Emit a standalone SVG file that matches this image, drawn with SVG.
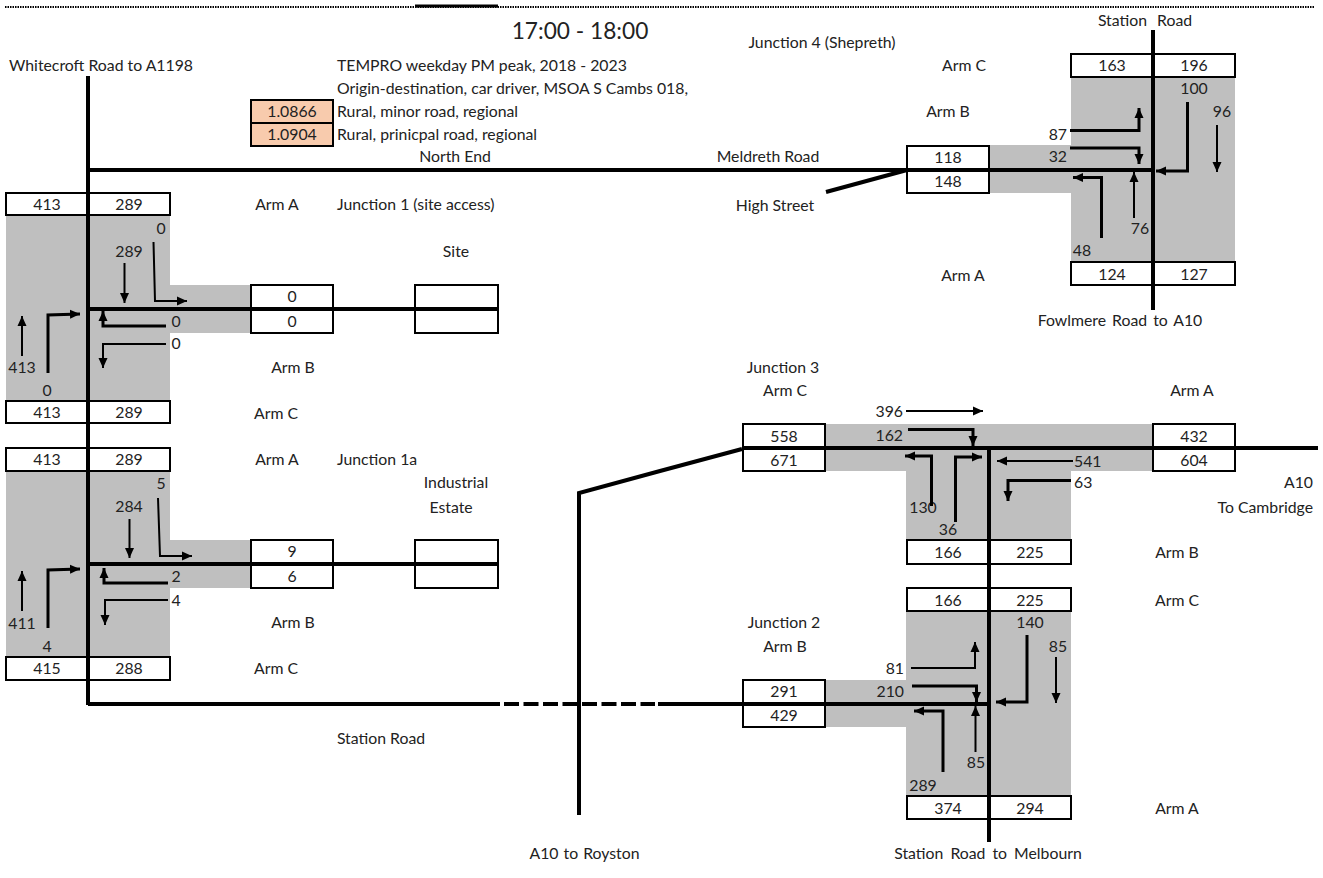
<svg xmlns="http://www.w3.org/2000/svg" width="1323" height="878" viewBox="0 0 1323 878">
<style>
text{font-family:"Lato","Carlito","Open Sans",sans-serif;font-size:15.8px;fill:#222;transform:translateY(.7px)}
.m{text-anchor:middle}.e{text-anchor:end}
.g{fill:#bfbfbf}
.b{fill:#fff;stroke:#000;stroke-width:2}
.o{fill:#f8cbad;stroke:#000;stroke-width:2}
.r{fill:none;stroke:#000;stroke-width:4}
.a{fill:none;stroke:#000;stroke-width:2;marker-end:url(#h)}
.t{stroke-width:3}
</style>
<defs><marker id="h" markerUnits="userSpaceOnUse" markerWidth="12" markerHeight="10" refX="10" refY="5" orient="auto"><path d="M0 0.5L10 5L0 9.5Z"/></marker></defs>
<g id="header">
<path d="M5 7H1315" fill="none" stroke="#000" stroke-width="2" stroke-dasharray="1.5 1"/>
<path d="M415 6H498" fill="none" stroke="#000" stroke-width="3"/>
<text x="580" y="38" class="m" style="font-size:22.7px">17:00 - 18:00</text>
<text x="9" y="70">Whitecroft Road to A1198</text>
<text x="337" y="70">TEMPRO weekday PM peak, 2018 - 2023</text>
<text x="337" y="93">Origin-destination, car driver, MSOA S Cambs 018,</text>
<text x="337" y="116">Rural, minor road, regional</text>
<text x="337" y="139">Rural, prinicpal road, regional</text>
<rect x="251" y="100" width="82" height="23" class="o"/><rect x="251" y="123" width="82" height="23" class="o"/>
<text x="292" y="116" class="m">1.0866</text><text x="292" y="139" class="m">1.0904</text>
<text x="455" y="161" class="m">North End</text>
<text x="768" y="161" class="m">Meldreth Road</text>
<text x="775" y="210" class="m">High Street</text>
<text x="381" y="743" class="m">Station Road</text>
<text x="584.500" y="858" class="m" style="word-spacing:1px">A10 to Royston</text>
<text x="988" y="858" class="m" style="word-spacing:3px">Station Road to Melbourn</text>
<text x="1145" y="25" class="m" style="word-spacing:6px">Station Road</text>
<text x="1120" y="325" class="m" style="word-spacing:2px">Fowlmere Road to A10</text>
<text x="1313" y="487" class="e">A10</text>
<text x="1313" y="512" class="e">To Cambridge</text>
</g>
<g id="junction-1">
<path class="g" d="M6 215H170V285H250V333H170V401H6Z"/>
<rect class="b" x="6" y="193" width="82" height="22"/><rect class="b" x="88" y="193" width="82" height="22"/>
<rect class="b" x="6" y="401" width="82" height="22"/><rect class="b" x="88" y="401" width="82" height="22"/>
<rect class="b" x="251" y="285" width="82" height="24"/><rect class="b" x="251" y="309" width="82" height="24"/>
<rect class="b" x="415" y="285" width="83" height="24"/><rect class="b" x="415" y="309" width="83" height="24"/>
<text x="47" y="209" class="m">413</text><text x="129" y="209" class="m">289</text>
<text x="47" y="417" class="m">413</text><text x="129" y="417" class="m">289</text>
<text x="292" y="301" class="m">0</text><text x="292" y="326" class="m">0</text>
<text x="161" y="233" class="m">0</text><text x="129" y="256" class="m">289</text>
<text x="176" y="326" class="m">0</text><text x="176" y="348" class="m">0</text>
<text x="22" y="372" class="m">413</text><text x="47" y="395" class="m">0</text>
<text x="277" y="209" class="m">Arm A</text><text x="337" y="209">Junction 1 (site access)</text>
<text x="456" y="256" class="m">Site</text><text x="293" y="372" class="m">Arm B</text><text x="276" y="418" class="m">Arm C</text>
</g>
<g id="junction-1a">
<path class="g" d="M6 471H170V540H250V588H170V657H6Z"/>
<rect class="b" x="6" y="448" width="82" height="23"/><rect class="b" x="88" y="448" width="82" height="23"/>
<rect class="b" x="6" y="657" width="82" height="23"/><rect class="b" x="88" y="657" width="82" height="23"/>
<rect class="b" x="251" y="540" width="82" height="24"/><rect class="b" x="251" y="564" width="82" height="24"/>
<rect class="b" x="415" y="540" width="83" height="24"/><rect class="b" x="415" y="564" width="83" height="24"/>
<text x="47" y="464" class="m">413</text><text x="129" y="464" class="m">289</text>
<text x="47" y="673" class="m">415</text><text x="129" y="673" class="m">288</text>
<text x="292" y="556" class="m">9</text><text x="292" y="581" class="m">6</text>
<text x="161" y="488" class="m">5</text><text x="129" y="511" class="m">284</text>
<text x="176" y="581" class="m">2</text><text x="176" y="605" class="m">4</text>
<text x="22" y="628" class="m">411</text><text x="47" y="651" class="m">4</text>
<text x="277" y="464" class="m">Arm A</text><text x="337" y="464">Junction 1a</text>
<text x="456" y="487" class="m">Industrial</text><text x="451" y="512" class="m">Estate</text>
<text x="293" y="627" class="m">Arm B</text><text x="276" y="673" class="m">Arm C</text>
</g>
<g id="junction-2">
<path class="g" d="M906 611H1071V796H906V727H825V680H906Z"/>
<rect class="b" x="907" y="588" width="82" height="23"/><rect class="b" x="989" y="588" width="82" height="23"/>
<rect class="b" x="907" y="796" width="82" height="23"/><rect class="b" x="989" y="796" width="82" height="23"/>
<rect class="b" x="743" y="680" width="82" height="24"/><rect class="b" x="743" y="704" width="82" height="23"/>
<text x="948" y="605" class="m">166</text><text x="1030" y="605" class="m">225</text>
<text x="948" y="813" class="m">374</text><text x="1030" y="813" class="m">294</text>
<text x="784" y="696" class="m">291</text><text x="784" y="720" class="m">429</text>
<text x="1030" y="627" class="m">140</text><text x="1058" y="651" class="m">85</text>
<text x="904" y="673" class="e">81</text><text x="904" y="696" class="e">210</text>
<text x="976" y="767" class="m">85</text><text x="923" y="790" class="m">289</text>
<text x="784" y="627" class="m">Junction 2</text><text x="785" y="651" class="m">Arm B</text>
<text x="1177" y="605" class="m">Arm C</text><text x="1177" y="813" class="m">Arm A</text>
</g>
<g id="junction-3">
<path class="g" d="M825 424H1153V471H1071V540H906V471H825Z"/>
<rect class="b" x="743" y="424" width="82" height="23.500"/><rect class="b" x="743" y="447.500" width="82" height="23.500"/>
<rect class="b" x="1153" y="424" width="82" height="23.500"/><rect class="b" x="1153" y="447.500" width="82" height="23.500"/>
<rect class="b" x="907" y="540" width="82" height="24"/><rect class="b" x="989" y="540" width="82" height="24"/>
<text x="784" y="441" class="m">558</text><text x="784" y="465" class="m">671</text>
<text x="1194" y="441" class="m">432</text><text x="1194" y="465" class="m">604</text>
<text x="948" y="557" class="m">166</text><text x="1030" y="557" class="m">225</text>
<text x="903" y="416" class="e">396</text><text x="903" y="440" class="e">162</text>
<text x="1074" y="466">541</text><text x="1074" y="487">63</text>
<text x="923" y="512" class="m">130</text><text x="948" y="534" class="m">36</text>
<text x="783" y="372" class="m">Junction 3</text><text x="785" y="395" class="m">Arm C</text>
<text x="1192" y="395" class="m">Arm A</text><text x="1177" y="557" class="m">Arm B</text>
</g>
<g id="junction-4">
<path class="g" d="M1071 77H1235V262H1071V193H990V145H1071Z"/>
<rect class="b" x="1071" y="54" width="82" height="23"/><rect class="b" x="1153" y="54" width="82" height="23"/>
<rect class="b" x="1071" y="262" width="82" height="23"/><rect class="b" x="1153" y="262" width="82" height="23"/>
<rect class="b" x="907" y="146" width="82" height="24"/><rect class="b" x="907" y="170" width="82" height="23"/>
<text x="1112" y="70" class="m">163</text><text x="1194" y="70" class="m">196</text>
<text x="1112" y="279" class="m">124</text><text x="1194" y="279" class="m">127</text>
<text x="948" y="162" class="m">118</text><text x="948" y="186" class="m">148</text>
<text x="1194" y="93" class="m">100</text><text x="1222" y="116" class="m">96</text>
<text x="1067" y="139" class="e">87</text><text x="1067" y="161" class="e">32</text>
<text x="1140" y="233" class="m">76</text><text x="1082" y="255" class="m">48</text>
<text x="822" y="47" class="m">Junction 4 (Shepreth)</text>
<text x="964" y="70" class="m">Arm C</text><text x="948" y="116" class="m">Arm B</text><text x="963" y="280" class="m">Arm A</text>
</g>
<g id="connectors">
<path class="r" d="M88 76V705"/>
<path class="r" d="M88 170H1153"/>
<path class="r" d="M88 704H500"/>
<path class="r" d="M504 704H655" stroke-dasharray="15 4.500"/>
<path class="r" d="M658 704H989"/>
<path class="r" d="M579 815V493L660 471L742 449"/>
<path class="r" d="M742 448H1318"/>
<path class="r" d="M989 448V842"/>
<path class="r" d="M1153 30V310"/>
<path class="r" d="M826 192L907 170"/>
<path class="r" d="M88 309H498"/>
<path class="r" d="M88 564H498"/>
<path class="a" d="M153.500 242L155 301H187"/>
<path class="a" d="M124.500 263V303"/>
<path class="a" d="M22 356V316"/>
<path class="a t" d="M48 373V315L80 314"/>
<path class="a t" d="M166 326H103V311"/>
<path class="a" d="M166 344H103V368"/>
<path class="a" d="M158 498L160 556H192"/>
<path class="a" d="M129.500 519V558"/>
<path class="a" d="M22 611V571"/>
<path class="a t" d="M48 628V570L80 569"/>
<path class="a t" d="M168 583H104V568"/>
<path class="a" d="M168 600H105V625"/>
<path class="a" d="M906 411H983"/>
<path class="a t" d="M908 429.500H973V446"/>
<path class="a t" d="M931.500 506V456H905"/>
<path class="a t" d="M955.500 522V457H982"/>
<path class="a" d="M1073 461H997"/>
<path class="a t" d="M1071 480.500H1008V501"/>
<path class="a" d="M911 668H975V642"/>
<path class="a t" d="M912 686H976.500V702"/>
<path class="a t" d="M943 772V711H914"/>
<path class="a" d="M975.500 752V706"/>
<path class="a t" d="M1027 635V702H996"/>
<path class="a" d="M1056 657V703"/>
<path class="a t" d="M1070 130.500H1139V108"/>
<path class="a t" d="M1070 148H1139V164"/>
<path class="a t" d="M1101.500 238V177.500H1073"/>
<path class="a" d="M1134 218V172"/>
<path class="a t" d="M1187.500 102V171H1156"/>
<path class="a" d="M1217 125V172"/>
</g>
</svg>
